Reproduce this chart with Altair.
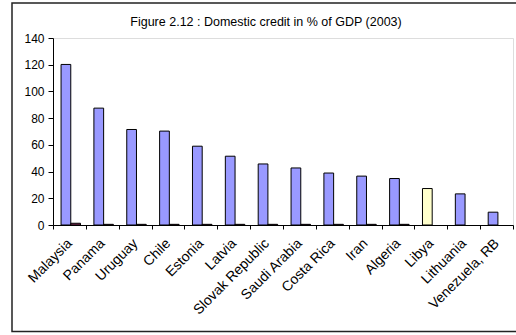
import altair as alt
import pandas as pd

countries = ["Malaysia", "Panama", "Uruguay", "Chile", "Estonia", "Latvia",
             "Slovak Republic", "Saudi Arabia", "Costa Rica", "Iran", "Algeria",
             "Libya", "Lithuania", "Venezuela, RB"]
credit = [120.2, 87.5, 71.5, 70.3, 59.0, 51.5, 45.7, 42.7, 38.9, 36.6, 34.8, 27.3, 23.3, 9.6]
other = [1.3, 0.5, 0.5, 0.5, 0.5, 0.5, 0.5, 0.5, 0.5, 0.5, 0.5, 0.0, 0.0, 0.0]
series_names = ["a", "b"]
title_text = "Figure 2.12 : Domestic credit in % of GDP (2003)"

rows = []
for c, v1, v2 in zip(countries, credit, other):
    rows.append({"country": c, "series": "a", "value": v1})
    rows.append({"country": c, "series": "b", "value": v2})
df = pd.DataFrame(rows)

FONT = "Liberation Sans"
W, H = 460, 187

bars = alt.Chart(df).transform_filter(
    alt.datum.value > 0
).transform_calculate(
    col="datum.series == 'b' ? '#993366' : (datum.country == 'Libya' ? '#FFFFCC' : '#9999FF')"
).mark_bar(stroke="black", strokeWidth=1).encode(
    x=alt.X("country:N", sort=countries, title=None,
            scale=alt.Scale(paddingInner=0, paddingOuter=0),
            axis=alt.Axis(labelAngle=-45, labelAlign="right", labelBaseline="middle",
                          tickBand="extent", tickSize=4, tickColor="black",
                          domainColor="black", labelFont=FONT, labelFontSize=14,
                          labelColor="black", labelPadding=12)),
    xOffset=alt.XOffset("series:N", sort=series_names,
                        scale=alt.Scale(domain=series_names, paddingInner=0,
                                        paddingOuter=0.69, align=0.6)),
    y=alt.Y("value:Q", title=None,
            scale=alt.Scale(domain=[0, 140], nice=False),
            axis=alt.Axis(values=[0, 20, 40, 60, 80, 100, 120, 140], grid=False,
                          tickSize=5, tickColor="black", domainColor="black",
                          labelFont=FONT, labelFontSize=12, labelColor="black",
                          labelPadding=4)),
    fill=alt.Fill("col:N", scale=None, legend=None),
)

frame = alt.Chart(alt.Data(values=[{}])).mark_rect(
    fill=None, stroke="#222222", strokeWidth=1.5
).encode(
    x=alt.value(-41), x2=alt.value(475), y=alt.value(-35), y2=alt.value(293.5)
)

title = alt.Chart(alt.Data(values=[{"t": title_text}])).mark_text(
    font=FONT, fontSize=12.5, color="black", align="center", baseline="alphabetic"
).encode(
    text="t:N", x=alt.value(213), y=alt.value(-12)
)

chart = alt.layer(frame, bars, title).properties(
    width=W, height=H,
    autosize=alt.AutoSizeParams(type="none"),
    padding={"left": 53, "top": 38, "right": 3, "bottom": 110},
).configure_view(stroke="#808080", strokeWidth=1).configure(background="white")

chart.save("out.html", embed_options={"renderer": "svg", "actions": False})
